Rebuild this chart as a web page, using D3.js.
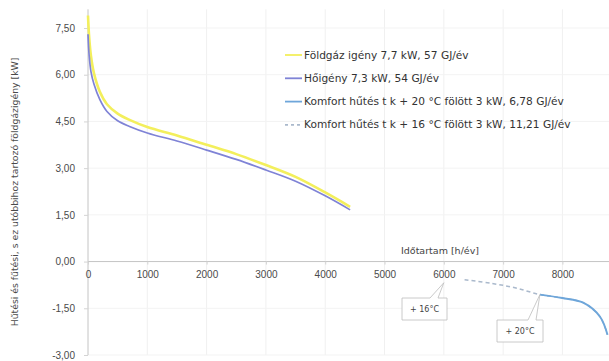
<!DOCTYPE html>
<html>
<head>
<meta charset="utf-8">
<script src="https://cdn.jsdelivr.net/npm/d3@7"></script>
<style>
  body { margin: 0; background: #fff; }
  svg { display: block; font-family: "DejaVu Sans", "Liberation Sans", Arial, sans-serif; }
</style>
</head>
<body>
<div id="chart"></div>
<script>
"use strict";

// hours per year on x, kW on y
var hours = [0, 20, 50, 100, 200, 320, 500, 700, 1000, 1500, 2000, 2500, 3000, 3500, 4000, 4420];
var gasDemand = [7.9, 7.2, 6.6, 6.05, 5.45, 5.05, 4.75, 4.55, 4.32, 4.05, 3.75, 3.45, 3.1, 2.72, 2.22, 1.76];
var heatDemand = [7.3, 6.6, 6.1, 5.7, 5.2, 4.82, 4.52, 4.34, 4.13, 3.87, 3.58, 3.28, 2.94, 2.58, 2.11, 1.66];

var cool16Hours = [6350, 6800, 7200, 7620, 8000, 8350, 8634, 8760];
var cool16 = [-0.58, -0.7, -0.84, -1.06, -1.17, -1.32, -1.77, -2.35];
var cool20Hours = [7620, 8000, 8350, 8634, 8760];
var cool20 = [-1.06, -1.17, -1.32, -1.77, -2.35];

var xTicks = [0, 1000, 2000, 3000, 4000, 5000, 6000, 7000, 8000];
var yTicks = [-3, -1.5, 0, 1.5, 3, 4.5, 6, 7.5];

var legendLabels = [
  "Földgáz igény 7,7 kW, 57 GJ/év",
  "Hőigény 7,3 kW, 54 GJ/év",
  "Komfort hűtés t k + 20 °C fölött 3 kW, 6,78 GJ/év",
  "Komfort hűtés t k + 16 °C fölött 3 kW, 11,21 GJ/év"
];

var colors = {
  gas: "#f3ef5c",
  heat: "#7f83d6",
  cool20: "#6ea6da",
  cool16: "#aab9cc"
};

var width = 609, height = 361;

var svg = d3.select("#chart").append("svg")
  .attr("width", width)
  .attr("height", height);

var x = d3.scaleLinear().domain([0, 8760]).range([88, 607.5]);
var y = d3.scaleLinear().domain([-3, 7.5]).range([355, 28]);

// grid
svg.append("g")
  .selectAll("line")
  .data(xTicks.slice(1))
  .join("line")
  .attr("x1", function (d) { return x(d); })
  .attr("x2", function (d) { return x(d); })
  .attr("y1", y(8.1))
  .attr("y2", y(-3))
  .attr("stroke", "#f0f0f0")
  .attr("stroke-width", 1);

svg.append("g")
  .selectAll("line")
  .data(yTicks.filter(function (d) { return d !== 0; }))
  .join("line")
  .attr("x1", x(0))
  .attr("x2", width)
  .attr("y1", function (d) { return y(d); })
  .attr("y2", function (d) { return y(d); })
  .attr("stroke", "#f3f3f3")
  .attr("stroke-width", 1);

// y axis
var yAxis = svg.append("g")
  .attr("transform", "translate(" + x(0) + ",0)")
  .call(d3.axisLeft(y)
    .tickValues(yTicks)
    .tickSize(4)
    .tickPadding(9)
    .tickFormat(function (d) { return d3.format(".2f")(d).replace(".", ",").replace("−", "-"); }));
yAxis.select(".domain").attr("d", "M0," + y(8.1) + "V" + y(-3)).attr("stroke", "#c4c4c4");
yAxis.selectAll(".tick line").attr("stroke", "#d4d4d4");
yAxis.selectAll("text").attr("fill", "#4a4a4a").attr("font-size", "10px");

// x axis at zero
var xAxis = svg.append("g")
  .attr("transform", "translate(0," + y(0) + ")")
  .call(d3.axisBottom(x)
    .tickValues(xTicks)
    .tickSize(3)
    .tickPadding(6)
    .tickFormat(d3.format("d")));
xAxis.select(".domain").attr("d", "M" + x(0) + ",0H" + width).attr("stroke", "#c4c4c4");
xAxis.selectAll(".tick line").attr("stroke", "#d4d4d4");
xAxis.selectAll("text").attr("fill", "#4a4a4a").attr("font-size", "10px");

svg.append("text")
  .attr("x", 440)
  .attr("y", 254)
  .attr("text-anchor", "middle")
  .attr("font-size", "9.5px")
  .attr("fill", "#444")
  .text("Időtartam [h/év]");

svg.append("text")
  .attr("transform", "translate(18,192) rotate(-90)")
  .attr("text-anchor", "middle")
  .attr("font-size", "9.3px")
  .attr("fill", "#4a4a4a")
  .text("Hűtési és fűtési, s ez utóbbihoz tartozó  földgázigény  [kW]");

// curves
var line = d3.line()
  .x(function (d) { return x(d[0]); })
  .y(function (d) { return y(d[1]); })
  .curve(d3.curveCatmullRom.alpha(0.5));

function pairs(xs, ys) {
  return xs.map(function (h, i) { return [h, ys[i]]; });
}

svg.append("path")
  .attr("d", line(pairs(hours, gasDemand)))
  .attr("fill", "none")
  .attr("stroke", colors.gas)
  .attr("stroke-width", 2.6);

svg.append("path")
  .attr("d", line(pairs(hours, heatDemand)))
  .attr("fill", "none")
  .attr("stroke", colors.heat)
  .attr("stroke-width", 1.7);

svg.append("path")
  .attr("d", line(pairs(cool16Hours, cool16)))
  .attr("fill", "none")
  .attr("stroke", colors.cool16)
  .attr("stroke-width", 1.5)
  .attr("stroke-dasharray", "4,3");

svg.append("path")
  .attr("d", line(pairs(cool20Hours, cool20)))
  .attr("fill", "none")
  .attr("stroke", colors.cool20)
  .attr("stroke-width", 1.9);

// callouts
function callout(tipH, tipV, bx, by, bw, bh, px1, px2, label) {
  var tx = x(tipH), ty = y(tipV);
  var d = "M" + bx + "," + by +
    "H" + px1 + "L" + tx + "," + ty + "L" + px2 + "," + by +
    "H" + (bx + bw) + "V" + (by + bh) + "H" + bx + "Z";
  svg.append("path")
    .attr("d", d)
    .attr("fill", "#fff")
    .attr("stroke", "#bdbdbd")
    .attr("stroke-width", 0.8);
  svg.append("text")
    .attr("x", bx + bw / 2)
    .attr("y", by + bh / 2 + 3)
    .attr("text-anchor", "middle")
    .attr("font-size", "8px")
    .attr("fill", "#444")
    .text(label);
}

callout(6000, -0.68, 402, 298, 45, 22, 430, 438, "+ 16°C");
callout(7620, -1.06, 497, 320, 46, 22, 528, 536, "+ 20°C");

// legend
var legendColors = [colors.gas, colors.heat, colors.cool20, colors.cool16];
var legendDash = [null, null, null, "3,3"];
var legend = svg.append("g");
legendLabels.forEach(function (label, i) {
  var ly = 55 + i * 23.3;
  legend.append("line")
    .attr("x1", 285).attr("x2", 302)
    .attr("y1", ly).attr("y2", ly)
    .attr("stroke", legendColors[i])
    .attr("stroke-width", 1.8)
    .attr("stroke-dasharray", legendDash[i]);
  legend.append("text")
    .attr("x", 304)
    .attr("y", ly + 3.5)
    .attr("font-size", "10.6px")
    .attr("fill", "#333")
    .text(label);
});
</script>
</body>
</html>
